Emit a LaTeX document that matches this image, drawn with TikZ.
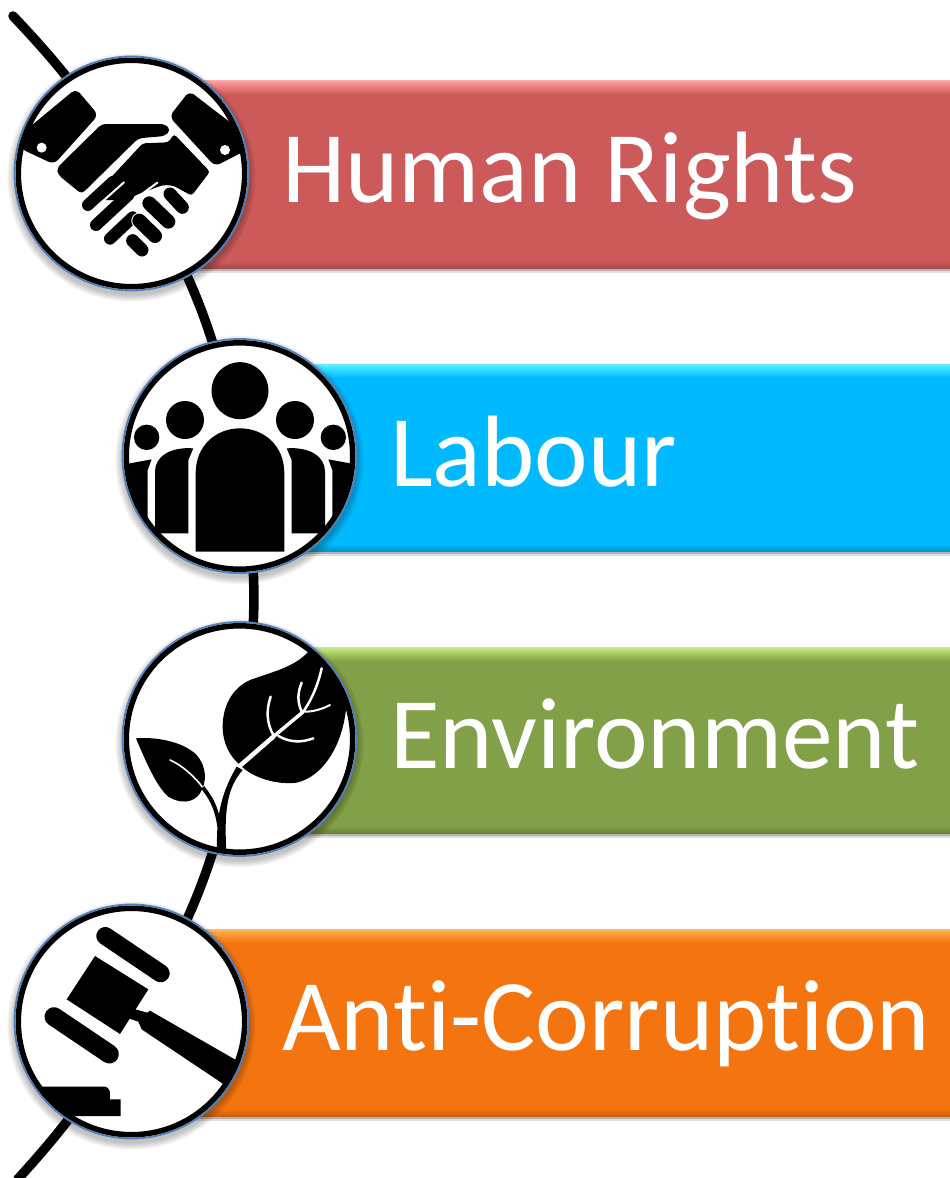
\documentclass[tikz,border=0pt]{standalone}
\usepackage{fontspec}
\setmainfont[Ligatures=NoCommon]{Carlito}
\usetikzlibrary{backgrounds,calc}
\definecolor{ringblue}{HTML}{4F81BD}
\definecolor{red1}{HTML}{CD5A5A}
\definecolor{red2}{HTML}{FB9090}
\definecolor{red3}{HTML}{A84A4A}
\definecolor{blu1}{HTML}{00B9FF}
\definecolor{blu2}{HTML}{3FE6FF}
\definecolor{blu3}{HTML}{0096CF}
\definecolor{grn1}{HTML}{82A047}
\definecolor{grn2}{HTML}{B8DE72}
\definecolor{grn3}{HTML}{6A8339}
\definecolor{org1}{HTML}{F47510}
\definecolor{org2}{HTML}{FFA640}
\definecolor{org3}{HTML}{C8600D}
\tikzset{
  disc/.style={circle,draw=ringblue,line width=1.8pt,fill=white,minimum size=234pt,inner sep=0pt,outer sep=0pt},
  label text/.style={text=white,font=\fontsize{101.5pt}{101.5pt}\selectfont,anchor=base west,inner sep=0pt},
  spine/.style={black,line width=9.5pt},
  ink/.style={fill=black,draw=none},
  finger/.style={black,line cap=round},
  nick/.style={white,line cap=round},
}
\newcommand{\xbar}[6]{%
  \fill[black,opacity=.12] (#1,#2+3) rectangle (950,#3+5);
  \fill[black,opacity=.2] (#1,#2+3) rectangle (950,#3+3);
  \fill[#4] (#1,#2) rectangle (950,#3);
  \shade[top color=#5!75!white,bottom color=#5] (#1,#2) rectangle (950,#2+3);
  \shade[top color=#5,bottom color=#4] (#1,#2+3) rectangle (950,#2+14);
  \shade[top color=#4,bottom color=#6] (#1,#3-7) rectangle (950,#3);
}
\newcommand{\xshadow}[1]{%
  \foreach \r in {118,119.5,121,122.5,124}{\fill[black,opacity=.05] ($(#1)+(0,4)$) circle[radius=\r pt];}
}
\newcommand{\xring}[1]{\draw[black,line width=5.5pt] (#1) circle[radius=113.2pt];}
\newcommand{\xpill}[5]{%
  \draw[white,line cap=round,line width=#5pt+2pt] (#1,#2)--(#3,#4);
  \draw[black,line cap=round,line width=#5pt] (#1,#2)--(#3,#4);
}
\begin{document}
\begin{tikzpicture}[x=1pt,y=-1pt]
\useasboundingbox (0,0) rectangle (950,1178);

\node[disc] (c1) at (131.5,173.5) {};
\node[disc] (c2) at (239.5,456) {};
\node[disc] (c3) at (239.5,739) {};
\node[disc] (c4) at (131.5,1021.5) {};
\coordinate (start) at (13,16);
\coordinate (finish) at (17,1180);

\begin{scope}[on background layer]
  \fill[white] (0,0) rectangle (950,1178);
  \xbar{190}{80}{268}{red1}{red2}{red3}
  \xbar{300}{364}{551}{blu1}{blu2}{blu3}
  \xbar{300}{647}{833}{grn1}{grn2}{grn3}
  \xbar{190}{929}{1116}{org1}{org2}{org3}
  \xshadow{c1}\xshadow{c2}\xshadow{c3}\xshadow{c4}
  \draw[spine,line cap=round] (start) to[bend left=6.5] (c1.center);
  \draw[spine] (c1.center) to[bend left=10.7] (c2.center);
  \draw[spine] (c2.center) to[bend left=10] (c3.center);
  \draw[spine] (c3.center) to[bend left=10.7] (c4.center);
  \draw[spine] (c4.center) to[bend left=6.5] (finish);
\end{scope}

% handshake
\begin{scope}
\clip (c1) circle[radius=114pt];
\begin{scope}[x=.33333pt,y=-.33333pt]
  \fill[ink,rounded corners=6pt] (228,266)--(295,345)--(162,493)--(60,445)--(60,405)--cycle;
  \fill[ink,rounded corners=6pt] (568,273)--(508,350)--(645,499)--(740,450)--(740,405)--cycle;
  \fill[white] (125,443) circle[radius=5pt];
  \fill[white] (675,450) circle[radius=5pt];
  \fill[ink,rounded corners=4pt] (305,372)--(495,372)--(512,390)--(495,408)--(415,415)--(245,582)--(175,525)--(170,505)--cycle;
  \fill[ink,rounded corners=3pt] (428,430)--(505,427)--(522,402)--(630,515)--(575,587)--(520,557)--(490,555)--(420,580)--(380,600)--(300,600)--(270,600)--cycle;
  \draw[finger,line width=12pt] (264,615)--(340,545);
  \draw[finger,line width=12pt] (288,675)--(385,585);
  \draw[finger,line width=12pt] (330,716)--(398,652);
  \draw[nick,line width=2pt] (372,547)--(272,636);
  \draw[nick,line width=2pt] (415,592)--(310,690);
  \draw[nick,line width=2pt] (415,590)--(472,548);
  \xpill{510}{582}{547}{622}{13}
  \xpill{448}{610}{505}{665}{14}
  \xpill{418}{662}{465}{708}{14}
  \xpill{398}{722}{426}{750}{13}
\end{scope}
\end{scope}
\xring{c1}

% people
\begin{scope}
\clip (c2) circle[radius=114pt];
\begin{scope}[shift={(100pt,-320pt)},x=.33333pt,y=-.33333pt]
  \fill[ink] (420,212) circle[radius=28.5pt];
  \fill[ink] (255,300) circle[radius=19pt];
  \fill[ink] (585,300) circle[radius=19pt];
  \fill[ink] (140,352) circle[radius=12.7pt];
  \fill[ink] (700,352) circle[radius=12.7pt];
  \fill[ink] (287,695)--(287,460) .. controls (287,375) and (350,325) .. (420,325) .. controls (490,325) and (553,375) .. (553,460)--(553,695)--cycle;
  \fill[ink] (165,640)--(165,455) .. controls (165,410) and (210,380) .. (280,385)--(265,420)--(265,640)--cycle;
  \fill[ink] (675,640)--(675,455) .. controls (675,410) and (630,380) .. (560,385)--(575,420)--(575,640)--cycle;
  \fill[ink] (60,640)--(60,450)--(90,430)--(155,418)--(143,450)--(143,600)--(165,640)--cycle;
  \fill[ink] (780,640)--(780,450)--(750,430)--(685,418)--(697,450)--(697,600)--(675,640)--cycle;
\end{scope}
\end{scope}
\xring{c2}

% plant
\begin{scope}
\clip (c3) circle[radius=114pt];
\begin{scope}[shift={(100pt,-600pt)},x=.33333pt,y=-.33333pt]
  \fill[ink] (625,155) .. controls (585,200) and (520,215) .. (450,240) .. controls (395,265) and (368,320) .. (368,380) .. controls (368,430) and (390,470) .. (420,495) .. controls (460,535) and (530,555) .. (590,548) .. controls (670,530) and (735,430) .. (740,300)--(800,250)--(700,100)--cycle;
  \draw[white,line width=4.5pt,line cap=round] (420,497)--(520,410);
  \draw[white,line width=3.5pt,line cap=round] (520,410)--(610,335);
  \draw[white,line width=2.5pt,line cap=round] (610,335) .. controls (640,290) and (655,250) .. (665,205);
  \draw[white,line width=2pt,line cap=round] (615,335) .. controls (640,335) and (665,328) .. (690,315);
  \draw[white,line width=2.5pt,line cap=round] (605,335) .. controls (592,305) and (592,280) .. (605,248);
  \draw[white,line width=2.5pt,line cap=round] (520,405) .. controls (500,370) and (498,330) .. (512,290);
  \draw[white,line width=2.5pt,line cap=round] (535,408) .. controls (570,428) and (605,428) .. (640,415);
  \fill[ink] (108,415) .. controls (170,410) and (250,425) .. (290,465) .. controls (320,500) and (322,545) .. (300,580) .. controls (280,610) and (240,612) .. (205,590) .. controls (170,560) and (140,490) .. (108,415)--cycle;
  \draw[white,line width=1.6pt,line cap=round] (210,480) .. controls (245,495) and (285,530) .. (310,565);
  \draw[black,line width=4pt] (308,562) .. controls (330,590) and (350,620) .. (358,680);
  \fill[ink] (350,770) .. controls (352,690) and (345,610) .. (410,500)--(428,510) .. controls (385,560) and (370,620) .. (380,770)--cycle;
\end{scope}
\end{scope}
\xring{c3}

% gavel
\begin{scope}
\clip (c4) circle[radius=114pt];
\begin{scope}[shift={(0pt,-890pt)},x=.33333pt,y=-.33333pt]
  \draw[finger,line width=18pt] (316,138)--(482,250);
  \draw[finger,line width=19pt] (162,380)--(328,492);
  \fill[ink] (285,198)--(445,298)--(360,432)--(200,328)--cycle;
  \fill[ink] (395,355)--(442,368)--(450,362)--(760,540)--(700,602)--(425,418)--(415,395)--(385,385)--cycle;
  \fill[ink] (60,590)--(315,590) .. controls (325,592) and (330,600) .. (330,610)--(330,628)--(362,628)--(362,678)--(220,678)--(190,720)--(60,720)--cycle;
\end{scope}
\end{scope}
\xring{c4}

\node[label text] (t1) at (282,202) {Human Rights};
\node[label text] (t2) at (390,486) {Labour};
\node[label text] (t3) at (390,768) {Environment};
\node[label text] (t4) at (282,1050) {Anti-Corruption};
\end{tikzpicture}
\end{document}
